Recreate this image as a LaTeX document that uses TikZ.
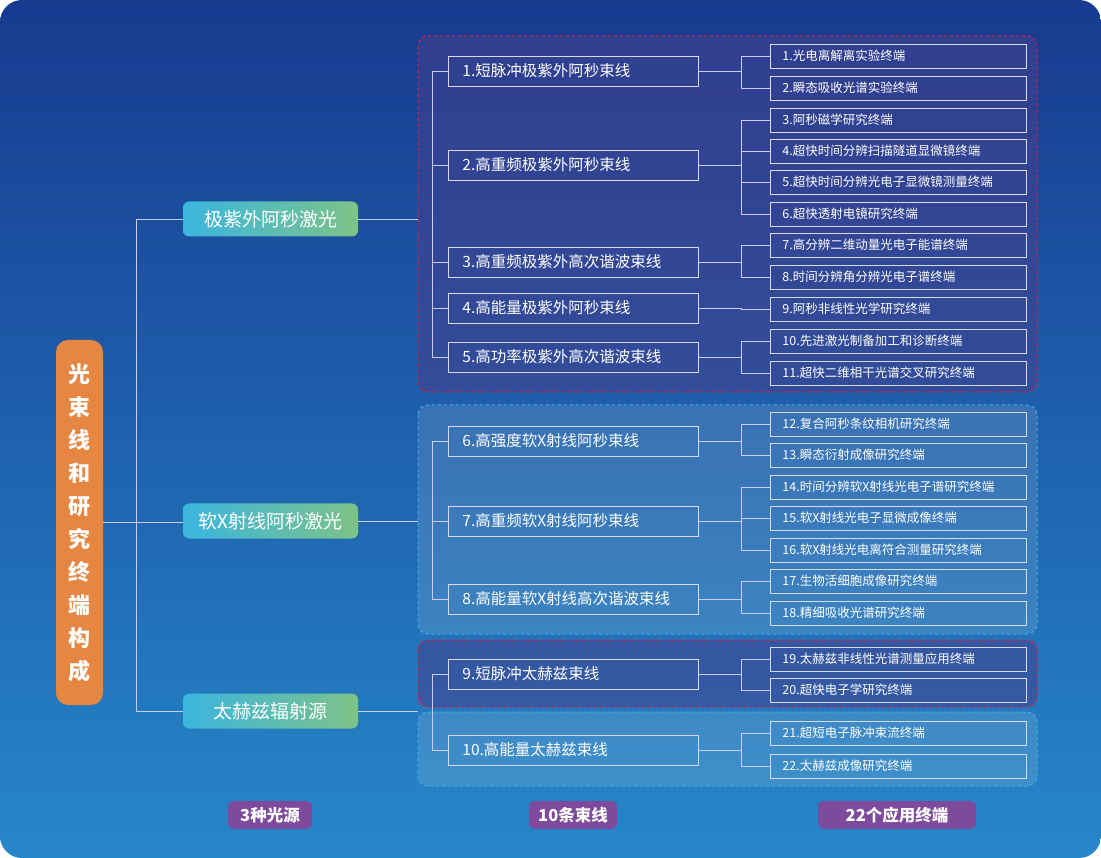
\documentclass[tikz,border=0pt]{standalone}
\usepackage{fontspec}
\setmainfont{Noto Sans CJK SC}
\usetikzlibrary{positioning}
\definecolor{bgtop}{HTML}{173A8F}
\definecolor{bgbot}{HTML}{2687C9}
\definecolor{rootc}{HTML}{E58743}
\definecolor{srcl}{HTML}{3BB5E0}
\definecolor{srcr}{HTML}{7DC387}
\definecolor{tagc}{HTML}{7D4A9C}
\definecolor{redd}{HTML}{E0203A}
\definecolor{blued}{HTML}{3AB0E6}
\definecolor{redfill}{HTML}{45408E}
\tikzset{
  link/.style={draw=white!80!blue, line width=0.8pt},
  srcbox/.style={rounded corners=6pt, left color=srcl, right color=srcr, text=white,
    minimum width=175pt, minimum height=35pt, font=\fontsize{19}{20}\selectfont},
  beambox/.style={draw=white!85!blue, line width=0.8pt, text=white, anchor=west,
    text width=222pt, inner xsep=14pt, minimum height=30pt, align=left,
    font=\fontsize{15.5}{17}\selectfont},
  termbox/.style={draw=white!85!blue, line width=0.8pt, text=white, anchor=west,
    text width=232pt, inner xsep=12pt, minimum height=24pt, inner ysep=0pt, align=left,
    font=\fontsize{12.5}{13}\selectfont},
  redgroup/.style={draw=redd, dashed, line width=1pt, rounded corners=10pt,
    fill=redfill, fill opacity=0.55},
  bluegroup/.style={draw=blued, dashed, line width=1pt, rounded corners=10pt,
    fill=white, fill opacity=0.12},
  tag/.style={rounded corners=6pt, fill=tagc, text=white, minimum height=28pt,
    font=\bfseries\fontsize{16.5}{17}\selectfont}
}
\begin{document}
\begin{tikzpicture}[x=1pt,y=-1pt]
% background
\fill[white] (0,0) rectangle (1101,858);
\shade[top color=bgtop, bottom color=bgbot, rounded corners=22pt] (0,0) rectangle (1101,858);
% groups
\path[redgroup] (418,36) rectangle (1037,392);
\path[bluegroup] (418,405) rectangle (1037,634);
\path[redgroup] (418,640) rectangle (1037,707);
\path[bluegroup] (418,712) rectangle (1037,786);
% root
\node[rounded corners=12pt, fill=rootc, text=white, minimum width=47pt, minimum height=365pt,
  text width=24pt, align=center, font=\bfseries\fontsize{22}{33}\selectfont]
  (root) at (79.5,522.5) {光\\束\\线\\和\\研\\究\\终\\端\\构\\成};
% sources
\node[srcbox] (euv) at (270.5,219) {极紫外阿秒激光};
\node[srcbox] (sxr) at (270.5,521) {软X射线阿秒激光};
\node[srcbox] (thz) at (270.5,711) {太赫兹辐射源};
\coordinate (trunk) at (136,0);
\coordinate (gin) at (418,0);
\draw[link] (root.east) -- (root.east -| sxr.west);
\draw[link] (euv.west) -| (trunk |- thz.west) -- (thz.west);
\foreach \s in {euv,sxr,thz} \draw[link] (\s.east) -- (\s.east -| gin);
% beamlines
\foreach \i/\y/\t in {1/71/1.短脉冲极紫外阿秒束线, 2/165/2.高重频极紫外阿秒束线,
  3/262/3.高重频极紫外高次谐波束线, 4/308/4.高能量极紫外阿秒束线,
  5/357/5.高功率极紫外高次谐波束线, 6/441/6.高强度软X射线阿秒束线,
  7/521/7.高重频软X射线阿秒束线, 8/599/8.高能量软X射线高次谐波束线,
  9/674/9.短脉冲太赫兹束线, 10/750/10.高能量太赫兹束线}
  \node[beambox] (b\i) at (448,\y) {\t};
% terminals
\foreach \j/\y/\t in {1/56/1.光电离解离实验终端, 2/88/2.瞬态吸收光谱实验终端,
  3/120/3.阿秒磁学研究终端, 4/151/4.超快时间分辨扫描隧道显微镜终端,
  5/182/5.超快时间分辨光电子显微镜测量终端, 6/214/6.超快透射电镜研究终端,
  7/245/7.高分辨二维动量光电子能谱终端, 8/277/8.时间分辨角分辨光电子谱终端,
  9/309/9.阿秒非线性光学研究终端, 10/341/10.先进激光制备加工和诊断终端,
  11/373/11.超快二维相干光谱交叉研究终端, 12/424/12.复合阿秒条纹相机研究终端,
  13/455/13.瞬态衍射成像研究终端, 14/487/14.时间分辨软X射线光电子谱研究终端,
  15/518/15.软X射线光电子显微成像终端, 16/550/16.软X射线光电离符合测量研究终端,
  17/581/17.生物活细胞成像研究终端, 18/613/18.精细吸收光谱研究终端,
  19/659/19.太赫兹非线性光谱测量应用终端, 20/690/20.超快电子学研究终端,
  21/733/21.超短电子脉冲束流终端, 22/766/22.太赫兹成像研究终端}
  \node[termbox] (t\j) at (770,\y) {\t};
% beamline spines
\coordinate (bsp) at (432,0);
\draw[link] (b1.west) -| (bsp |- b5.west) -- (b5.west);
\foreach \i in {2,3,4} \draw[link] (b\i.west) -- (b\i.west -| bsp);
\draw[link] (b6.west) -| (bsp |- b8.west) -- (b8.west);
\draw[link] (b7.west) -- (b7.west -| bsp);
\draw[link] (b9.west) -| (bsp |- b10.west) -- (b10.west);
% terminal links
\coordinate (tsp) at (741,0);
\foreach \i/\list in {1/{1,2}, 2/{3,4,5,6}, 3/{7,8}, 4/{9}, 5/{10,11}, 6/{12,13},
  7/{14,15,16}, 8/{17,18}, 9/{19,20}, 10/{21,22}} {
  \draw[link] (b\i.east) -- (b\i.east -| tsp);
  \foreach \j in \list \draw[link] (b\i.east -| tsp) |- (t\j.west);
}
% tags
\node[tag, minimum width=84pt] (tsrc) at (270,815) {3种光源};
\node[tag, minimum width=88pt] (tbeam) at (573,815) {10条束线};
\node[tag, minimum width=158pt] (tterm) at (897,815) {22个应用终端};
\end{tikzpicture}
\end{document}
